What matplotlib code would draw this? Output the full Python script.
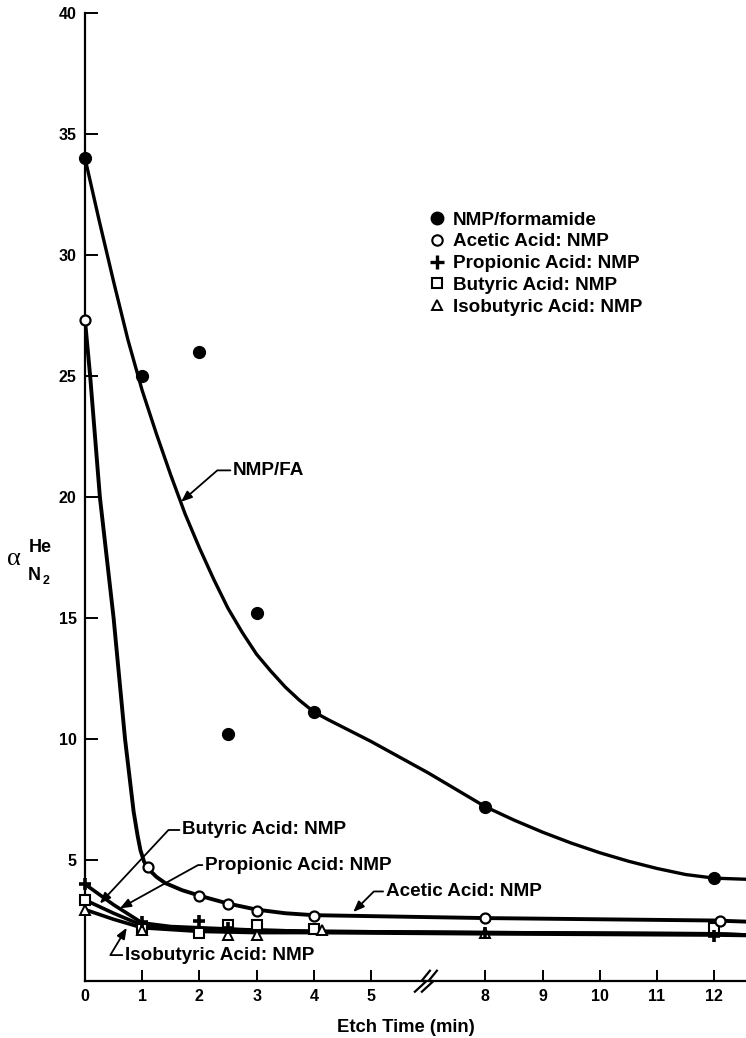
import numpy as np
import matplotlib
matplotlib.use("Agg")
import matplotlib.pyplot as plt
import matplotlib.transforms as mtransforms
from matplotlib.lines import Line2D

plt.rcParams["font.family"] = ["Liberation Sans", "DejaVu Sans"]
plt.rcParams["font.weight"] = "bold"

# -- measured points (etch time in min, alpha He/N2) ---------------------------
fa_x = [0, 1, 2, 2.5, 3, 4, 8, 12]
fa_y = [34.0, 25.0, 26.0, 10.2, 15.2, 11.1, 7.2, 4.25]

ac_x = [0, 1.1, 2, 2.5, 3, 4, 8, 12.1]
ac_y = [27.3, 4.7, 3.5, 3.2, 2.9, 2.7, 2.6, 2.5]

pr_x = [0, 1, 2, 2.5, 8, 12]
pr_y = [4.0, 2.45, 2.5, 2.2, 2.0, 1.85]

bu_x = [0, 1, 2, 2.5, 3, 4, 12]
bu_y = [3.35, 2.15, 2.0, 2.3, 2.3, 2.15, 2.2]

ib_x = [0, 1, 2.5, 3, 4.15, 8]
ib_y = [2.95, 2.1, 1.9, 1.9, 2.1, 2.0]

# -- hand-drawn fit curves -----------------------------------------------------
fa_cx = [0, 0.25, 0.5, 0.75, 1.0, 1.25, 1.5, 1.75, 2.0, 2.25, 2.5, 2.75, 3.0,
         3.25, 3.5, 3.75, 4.0, 4.25, 4.5, 4.75, 5.0, 5.75, 6.5, 7.25, 8, 8.5,
         9, 9.5, 10, 10.5, 11, 11.5, 12, 12.6]
fa_cy = [34.0, 31.4, 28.9, 26.5, 24.4, 22.6, 20.9, 19.3, 17.9, 16.6, 15.4,
         14.4, 13.5, 12.8, 12.15, 11.6, 11.12, 10.8, 10.5, 10.2, 9.9, 9.25,
         8.6, 7.9, 7.2, 6.65, 6.15, 5.7, 5.3, 4.95, 4.65, 4.4, 4.25, 4.2]

ac_cx = [0, 0.09, 0.26, 0.5, 0.62, 0.7, 0.77, 0.85, 0.92, 0.97, 1.03, 1.1, 1.25,
         1.4, 1.7, 2.04, 2.5, 3.0, 3.5, 4.0, 5.0, 8, 12, 12.6]
ac_cy = [27.3, 25.0, 20.0, 15.0, 12.0, 10.0, 8.6, 7.0, 6.0, 5.4, 4.95, 4.65,
         4.3, 4.05, 3.75, 3.5, 3.2, 2.95, 2.8, 2.72, 2.68, 2.6, 2.5, 2.45]

pr_cx = [0, 0.5, 1.0, 1.5, 2, 3, 4, 8, 12, 12.6]
pr_cy = [4.0, 3.15, 2.4, 2.25, 2.2, 2.1, 2.05, 2.0, 1.95, 1.9]

bu_cx = [0, 0.5, 1.0, 2, 3, 4, 8, 12, 12.6]
bu_cy = [3.35, 2.8, 2.3, 2.15, 2.1, 2.05, 2.0, 1.95, 1.9]

ib_cx = [0, 0.5, 1.0, 2, 3, 4, 8, 12, 12.6]
ib_cy = [2.95, 2.55, 2.2, 2.05, 2.0, 2.0, 1.95, 1.9, 1.88]

x_ticks = [0, 1, 2, 3, 4, 5, 8, 9, 10, 11, 12]
y_ticks = [5, 10, 15, 20, 25, 30, 35, 40]

FS = 13.6


# broken time axis: 5..8 min squeezed into two tick spacings
def fwd(x):
    x = np.asarray(x, float)
    return np.where(x <= 5, x, np.where(x >= 8, x - 1, 5 + (x - 5) * 2 / 3))


def inv(p):
    p = np.asarray(p, float)
    return np.where(p <= 5, p, np.where(p >= 7, p + 1, 5 + (p - 5) * 1.5))


W, H = 746, 1038
fig = plt.figure(figsize=(W / 100, H / 100), dpi=100)
ax = fig.add_axes([85 / W, 1 - 981 / H, (W - 85) / W, (981 - 13) / H])
ax.set_xscale("function", functions=(fwd, inv))
ax.set_xlim(0, 12.556)
ax.set_ylim(0, 40)

for s in ("top", "right"):
    ax.spines[s].set_visible(False)
for s in ("left", "bottom"):
    ax.spines[s].set_linewidth(1.6)

ax.set_xticks(x_ticks)
ax.set_xticklabels([str(t) for t in x_ticks])
ax.xaxis.set_minor_locator(matplotlib.ticker.NullLocator())
ax.set_yticks(y_ticks)
ax.set_yticklabels([str(t) for t in y_ticks])
ax.tick_params(axis="x", direction="in", length=8, width=1.4, pad=6,
               labelsize=11.5)
ax.tick_params(axis="y", direction="in", length=9, width=1.4, pad=6,
               labelsize=11.5)

# -- curves --------------------------------------------------------------------
kw = dict(color="black", solid_capstyle="round", solid_joinstyle="round", zorder=2)
ax.plot(fa_cx, fa_cy, lw=2.4, **kw)
ax.plot(ac_cx, ac_cy, lw=2.8, **kw)
ax.plot(pr_cx, pr_cy, lw=2.6, **kw)
ax.plot(bu_cx, bu_cy, lw=2.6, **kw)
ax.plot(ib_cx, ib_cy, lw=2.6, **kw)

# -- data points ---------------------------------------------------------------
ax.plot(fa_x, fa_y, ls="none", marker="o", ms=8.5, mfc="black", mec="black",
        zorder=4, clip_on=False)
ax.plot(ac_x, ac_y, ls="none", marker="o", ms=7.2, mfc="white", mec="black",
        mew=1.6, zorder=4, clip_on=False)
ax.plot(bu_x, bu_y, ls="none", marker="s", ms=6.8, mfc="white", mec="black",
        mew=1.5, zorder=3, clip_on=False)
ax.plot(ib_x, ib_y, ls="none", marker="^", ms=7, mfc="white", mec="black",
        mew=1.4, zorder=3, clip_on=False)
ax.plot(pr_x, pr_y, ls="none", marker="+", ms=9, mec="black", mew=2.6,
        zorder=5, clip_on=False)

# -- axis break mark -----------------------------------------------------------
brk = fig.dpi_scale_trans + mtransforms.ScaledTranslation(6.5, 0, ax.transData)
for dx in (0.0, 0.07):
    bx = np.array([0.017, -0.067, -0.017, -0.133]) + dx
    by = np.array([0.103, 0.0, 0.0, -0.107])
    ax.plot(bx, by, color="black", lw=1.6, transform=brk, clip_on=False,
            zorder=6)

# -- labels with leader arrows -------------------------------------------------
def label(text, xy, xytext, ang):
    ax.annotate(text, xy=xy, xytext=xytext, ha="left", va="center",
                fontsize=FS, fontweight="bold",
                arrowprops=dict(arrowstyle="-|>,head_length=0.5,head_width=0.2",
                                color="black", lw=1.3, shrinkA=0, shrinkB=0,
                                relpos=(0, 0.5), mutation_scale=13,
                                connectionstyle=f"angle,angleA=0,angleB={ang},rad=0"),
                zorder=7)


label("NMP/FA", (1.68, 19.8), (2.59, 21.1), 41)
label("Butyric Acid: NMP", (0.26, 3.2), (1.70, 6.24), 47)
label("Propionic Acid: NMP", (0.61, 3.0), (2.10, 4.79), 29)
label("Isobutyric Acid: NMP", (0.73, 2.2), (0.70, 1.07), 59)
label("Acetic Acid: NMP", (4.69, 2.85), (5.39, 3.70), 45)

# -- legend --------------------------------------------------------------------
handles = [
    Line2D([], [], ls="none", marker="o", ms=9, mfc="black", mec="black"),
    Line2D([], [], ls="none", marker="o", ms=7.5, mfc="white", mec="black", mew=1.5),
    Line2D([], [], ls="none", marker="+", ms=10, mec="black", mew=2.4),
    Line2D([], [], ls="none", marker="s", ms=6.5, mfc="white", mec="black", mew=1.5),
    Line2D([], [], ls="none", marker="^", ms=7, mfc="white", mec="black", mew=1.4),
]
names = ["NMP/formamide", "Acetic Acid: NMP", "Propionic Acid: NMP",
         "Butyric Acid: NMP", "Isobutyric Acid: NMP"]
ax.legend(handles, names, loc="upper left",
          bbox_to_anchor=(427.6 / W, 1 - 211.4 / H), bbox_transform=fig.transFigure,
          frameon=False, borderpad=0, borderaxespad=0, handlelength=1.0,
          handletextpad=0.353, labelspacing=0.24,
          prop={"size": FS, "weight": "bold"})

# -- axis titles ---------------------------------------------------------------
fig.text(406 / W, 1 - 1028 / H, "Etch Time (min)", ha="center", va="center",
         fontsize=13.3, fontweight="bold")
fig.text(13.5 / W, 1 - 559 / H, "α", ha="center", va="center", fontsize=19,
         fontweight="normal", family=["Liberation Serif", "DejaVu Serif"])
fig.text(40 / W, 1 - 547 / H, "He", ha="center", va="center", fontsize=13,
         fontweight="bold")
fig.text(34 / W, 1 - 576 / H, "N", ha="center", va="center", fontsize=13,
         fontweight="bold")
fig.text(46 / W, 1 - 581 / H, "2", ha="center", va="center", fontsize=9,
         fontweight="bold")

fig.savefig("out.png", dpi=100)
